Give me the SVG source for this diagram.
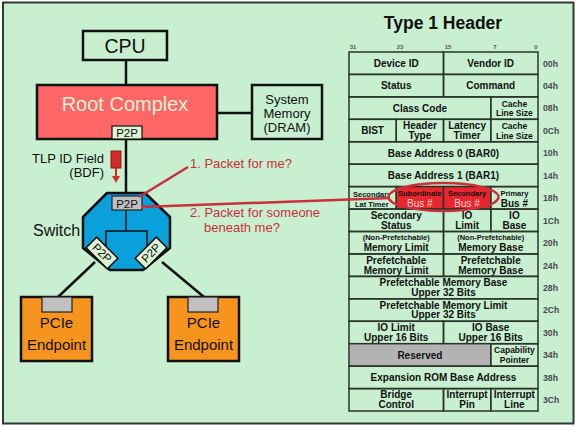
<svg xmlns="http://www.w3.org/2000/svg" width="576" height="426" viewBox="0 0 576 426">
<style>
.ln{stroke:#111;stroke-width:2.5;fill:none}
.box{stroke:#111;stroke-width:2.5}
.sans{font-family:"Liberation Sans",Arial,sans-serif}
.lbl{font-family:"Liberation Sans",Arial,sans-serif;fill:#111;text-anchor:middle}
.tab{fill:#c0c0c0;stroke:#222;stroke-width:1.2}
.ttab{fill:#dcf3d4;stroke:#111;stroke-width:1.5}
.cell{fill:none;stroke:#2a352a;stroke-width:1.5}
.t{font-family:"Liberation Sans",Arial,sans-serif;font-weight:bold;fill:#111;text-anchor:middle;font-size:10px}
.s{font-family:"Liberation Sans",Arial,sans-serif;font-weight:bold;fill:#111;text-anchor:middle;font-size:8.5px}
.xs{font-family:"Liberation Sans",Arial,sans-serif;font-weight:bold;fill:#111;text-anchor:middle;font-size:7.5px}
.off{font-family:"Liberation Sans",Arial,sans-serif;font-weight:bold;fill:#4a4a4a;font-size:8.7px}
.bit{font-family:"Liberation Sans",Arial,sans-serif;font-weight:bold;fill:#555;font-size:6px;text-anchor:middle}
.red{font-family:"Liberation Sans",Arial,sans-serif;fill:#c9303a;font-size:13px}
.rl{stroke:#c9303a;stroke-width:2.5;fill:none}
</style>
<defs>
<clipPath id="secClip"><rect x="349" y="186" width="41" height="24"/></clipPath>
</defs>
<rect x="0" y="0" width="576" height="426" fill="#ffffff"/>
<rect x="3" y="2.5" width="570.5" height="421" fill="#c8efd0" stroke="#2f3d2f" stroke-width="2"/>

<g id="connectors">
<line class="ln" x1="126" y1="60" x2="126" y2="85"/>
<line class="ln" x1="217" y1="113" x2="252" y2="113"/>
<line class="ln" x1="126" y1="139" x2="126" y2="194"/>
<line class="ln" x1="95" y1="262" x2="58" y2="297"/>
<line class="ln" x1="162" y1="262" x2="204" y2="297"/>
</g>

<g id="cpu">
<rect class="box" x="83" y="31" width="84" height="29" fill="#c8efd0"/>
<text class="lbl" x="125" y="53" font-size="19.5">CPU</text>
</g>

<g id="root-complex">
<rect class="box" x="37" y="85" width="180" height="54" fill="#ff6666"/>
<text class="sans" x="125" y="111" font-size="20" fill="#d8f2d6" text-anchor="middle">Root Complex</text>
<rect x="112" y="126" width="30" height="13" fill="#dcf3d4" stroke="#111" stroke-width="1.2"/>
<text class="lbl" x="127" y="136.5" font-size="11.5">P2P</text>
</g>

<g id="system-memory">
<rect class="box" x="252" y="85" width="70" height="54" fill="#c8efd0"/>
<text class="lbl" x="287" y="104" font-size="13">System</text>
<text class="lbl" x="287" y="118" font-size="13">Memory</text>
<text class="lbl" x="287" y="131.8" font-size="13">(DRAM)</text>
</g>

<g id="tlp-id-field">
<text class="sans" x="104" y="163" font-size="13" fill="#111" text-anchor="end">TLP ID Field</text>
<text class="sans" x="104" y="177" font-size="13" fill="#111" text-anchor="end">(BDF)</text>
<rect x="111" y="151" width="10" height="17" fill="#d42a2a" stroke="#8a1a1a" stroke-width="1"/>
<line x1="116" y1="168" x2="116" y2="177" stroke="#d42a2a" stroke-width="2"/>
<polygon points="112,176 120,176 116,183" fill="#d42a2a"/>
</g>

<g id="switch">
<polygon points="107,193 145,193 170,217 170,248 143,270 110,270 83,248 83,217" fill="#0aa0dc" stroke="#111" stroke-width="2.5" stroke-linejoin="round"/>
<path d="M126,210 V231 M106,252 V231 H147 V252" stroke="#111" stroke-width="1.5" fill="none"/>
<rect class="tab" x="112" y="196" width="30" height="14"/>
<text class="lbl" x="127" y="207.5" font-size="11.5">P2P</text>
<g transform="translate(102,253) rotate(45)">
<rect class="ttab" x="-15" y="-7.5" width="30" height="15"/>
<text class="lbl" x="0" y="4" font-size="11.5">P2P</text>
</g>
<g transform="translate(151,253) rotate(-45)">
<rect class="ttab" x="-15" y="-7.5" width="30" height="15"/>
<text class="lbl" x="0" y="4" font-size="11.5">P2P</text>
</g>
<text class="sans" x="33" y="236" font-size="16" fill="#111">Switch</text>
</g>

<g id="endpoint-left">
<rect class="box" x="21" y="297" width="71" height="64" fill="#f7941d"/>
<rect class="tab" x="42" y="297" width="30" height="15"/>
<text class="lbl" x="56.5" y="328" font-size="15">PCIe</text>
<text class="lbl" x="56.5" y="350" font-size="15">Endpoint</text>
</g>

<g id="endpoint-right">
<rect class="box" x="168" y="297" width="71" height="64" fill="#f7941d"/>
<rect class="tab" x="188" y="297" width="30" height="15"/>
<text class="lbl" x="203.5" y="328" font-size="15">PCIe</text>
<text class="lbl" x="203.5" y="350" font-size="15">Endpoint</text>
</g>

<g id="type1-header">
<text class="sans" x="443" y="29" font-size="17.5" font-weight="bold" fill="#111" text-anchor="middle">Type 1 Header</text>
<text class="bit" x="353" y="48.5">31</text>
<text class="bit" x="400" y="48.5">23</text>
<text class="bit" x="448" y="48.5">15</text>
<text class="bit" x="495" y="48.5">7</text>
<text class="bit" x="536" y="48.5">0</text>

<!-- row 00h -->
<rect class="cell" x="349" y="52" width="94.5" height="22.4"/>
<rect class="cell" x="443.5" y="52" width="94.5" height="22.4"/>
<text class="t" x="396.2" y="67">Device ID</text>
<text class="t" x="490.7" y="67">Vendor ID</text>
<!-- row 04h -->
<rect class="cell" x="349" y="74.4" width="94.5" height="22.4"/>
<rect class="cell" x="443.5" y="74.4" width="94.5" height="22.4"/>
<text class="t" x="396.2" y="89.4">Status</text>
<text class="t" x="490.7" y="89.4">Command</text>
<!-- row 08h -->
<rect class="cell" x="349" y="96.9" width="141.75" height="22.4"/>
<rect class="cell" x="490.75" y="96.9" width="47.25" height="22.4"/>
<text class="t" x="419.9" y="111.9">Class Code</text>
<text class="s" x="514.4" y="107">Cache</text>
<text class="s" x="514.4" y="116.3">Line Size</text>
<!-- row 0Ch -->
<rect class="cell" x="349" y="119.3" width="47.25" height="22.4"/>
<rect class="cell" x="396.25" y="119.3" width="47.25" height="22.4"/>
<rect class="cell" x="443.5" y="119.3" width="47.25" height="22.4"/>
<rect class="cell" x="490.75" y="119.3" width="47.25" height="22.4"/>
<text class="t" x="372.6" y="134.3">BIST</text>
<text class="t" x="419.9" y="128.8">Header</text>
<text class="t" x="419.9" y="138.7">Type</text>
<text class="t" x="467.1" y="128.8">Latency</text>
<text class="t" x="467.1" y="138.7">Timer</text>
<text class="s" x="514.4" y="129.4">Cache</text>
<text class="s" x="514.4" y="138.7">Line Size</text>
<!-- row 10h -->
<rect class="cell" x="349" y="141.8" width="189" height="22.4"/>
<text class="t" x="443.5" y="156.8">Base Address 0 (BAR0)</text>
<!-- row 14h -->
<rect class="cell" x="349" y="164.2" width="189" height="22.4"/>
<text class="t" x="443.5" y="179.2">Base Address 1 (BAR1)</text>
<!-- row 18h -->
<rect class="cell" x="349" y="186.6" width="47.25" height="22.4"/>
<rect x="396.25" y="186.6" width="47.25" height="22.4" fill="#e8262c" stroke="#2a352a" stroke-width="1.5"/>
<rect x="443.5" y="186.6" width="47.25" height="22.4" fill="#e8262c" stroke="#2a352a" stroke-width="1.5"/>
<rect class="cell" x="490.75" y="186.6" width="47.25" height="22.4"/>
<text class="xs" x="353" y="196.5" style="text-anchor:start" clip-path="url(#secClip)">Secondary</text>
<text class="xs" x="355" y="206.5" style="text-anchor:start">Lat Timer</text>
<text class="xs" x="419.9" y="196.3" fill="#ffc8c8">Subordinate</text>
<text class="sans" x="419.9" y="207" font-size="10" fill="#ffd6d6" text-anchor="middle">Bus #</text>
<text class="xs" x="467.1" y="196.3" fill="#ffc8c8">Secondary</text>
<text class="sans" x="467.1" y="207" font-size="10" fill="#ffd6d6" text-anchor="middle">Bus #</text>
<text class="xs" x="514.4" y="196.3">Primary</text>
<text class="t" x="514.4" y="207">Bus #</text>
<!-- row 1Ch -->
<rect class="cell" x="349" y="209.1" width="94.5" height="22.4"/>
<rect class="cell" x="443.5" y="209.1" width="47.25" height="22.4"/>
<rect class="cell" x="490.75" y="209.1" width="47.25" height="22.4"/>
<text class="t" x="396.2" y="218.9">Secondary</text>
<text class="t" x="396.2" y="228.8">Status</text>
<text class="t" x="467.1" y="218.9">IO</text>
<text class="t" x="467.1" y="228.8">Limit</text>
<text class="t" x="514.4" y="218.9">IO</text>
<text class="t" x="514.4" y="228.8">Base</text>
<!-- row 20h -->
<rect class="cell" x="349" y="231.5" width="94.5" height="22.4"/>
<rect class="cell" x="443.5" y="231.5" width="94.5" height="22.4"/>
<text class="xs" x="396.2" y="240.3">(Non-Prefetchable)</text>
<text class="t" x="396.2" y="251">Memory Limit</text>
<text class="xs" x="490.7" y="240.3">(Non-Prefetchable)</text>
<text class="t" x="490.7" y="251">Memory Base</text>
<!-- row 24h -->
<rect class="cell" x="349" y="254" width="94.5" height="22.4"/>
<rect class="cell" x="443.5" y="254" width="94.5" height="22.4"/>
<text class="t" x="396.2" y="263.7">Prefetchable</text>
<text class="t" x="396.2" y="273.6">Memory Limit</text>
<text class="t" x="490.7" y="263.7">Prefetchable</text>
<text class="t" x="490.7" y="273.6">Memory Base</text>
<!-- row 28h -->
<rect class="cell" x="349" y="276.4" width="189" height="22.4"/>
<text class="t" x="443.5" y="286.1">Prefetchable Memory Base</text>
<text class="t" x="443.5" y="296">Upper 32 Bits</text>
<!-- row 2Ch -->
<rect class="cell" x="349" y="298.8" width="189" height="22.4"/>
<text class="t" x="443.5" y="308.5">Prefetchable Memory Limit</text>
<text class="t" x="443.5" y="318.4">Upper 32 Bits</text>
<!-- row 30h -->
<rect class="cell" x="349" y="321.3" width="94.5" height="22.4"/>
<rect class="cell" x="443.5" y="321.3" width="94.5" height="22.4"/>
<text class="t" x="396.2" y="331">IO Limit</text>
<text class="t" x="396.2" y="340.9">Upper 16 Bits</text>
<text class="t" x="490.7" y="331">IO Base</text>
<text class="t" x="490.7" y="340.9">Upper 16 Bits</text>
<!-- row 34h -->
<rect x="349" y="343.7" width="141.75" height="22.4" fill="#b3b3b3" stroke="#2a352a" stroke-width="1.5"/>
<rect class="cell" x="490.75" y="343.7" width="47.25" height="22.4"/>
<text class="t" x="419.9" y="358.7">Reserved</text>
<text class="s" x="514.4" y="353.2">Capability</text>
<text class="s" x="514.4" y="362.7">Pointer</text>
<!-- row 38h -->
<rect class="cell" x="349" y="366.2" width="189" height="22.4"/>
<text class="t" x="443.5" y="381.2">Expansion ROM Base Address</text>
<!-- row 3Ch -->
<rect class="cell" x="349" y="388.6" width="94.5" height="22.4"/>
<rect class="cell" x="443.5" y="388.6" width="47.25" height="22.4"/>
<rect class="cell" x="490.75" y="388.6" width="47.25" height="22.4"/>
<text class="t" x="396.2" y="398.3">Bridge</text>
<text class="t" x="396.2" y="408.2">Control</text>
<text class="t" x="467.1" y="398.3">Interrupt</text>
<text class="t" x="467.1" y="408.2">Pin</text>
<text class="t" x="514.4" y="398.3">Interrupt</text>
<text class="t" x="514.4" y="408.2">Line</text>

<text class="off" x="543" y="66.5">00h</text>
<text class="off" x="543" y="88.9">04h</text>
<text class="off" x="543" y="111.4">08h</text>
<text class="off" x="543" y="133.8">0Ch</text>
<text class="off" x="543" y="156.3">10h</text>
<text class="off" x="543" y="178.7">14h</text>
<text class="off" x="543" y="201.1">18h</text>
<text class="off" x="543" y="223.6">1Ch</text>
<text class="off" x="543" y="246">20h</text>
<text class="off" x="543" y="268.5">24h</text>
<text class="off" x="543" y="290.9">28h</text>
<text class="off" x="543" y="313.3">2Ch</text>
<text class="off" x="543" y="335.8">30h</text>
<text class="off" x="543" y="358.2">34h</text>
<text class="off" x="543" y="380.7">38h</text>
<text class="off" x="543" y="403.1">3Ch</text>
</g>

<g id="callouts">
<line class="rl" x1="188" y1="167" x2="139" y2="197"/>
<line class="rl" x1="141" y1="207" x2="390" y2="198"/>
<ellipse class="rl" cx="443.5" cy="197" rx="55" ry="14" stroke-width="3"/>
<text class="red" x="190" y="168">1. Packet for me?</text>
<text class="red" x="190" y="217">2. Packet for someone</text>
<text class="red" x="204" y="232">beneath me?</text>
</g>
</svg>
